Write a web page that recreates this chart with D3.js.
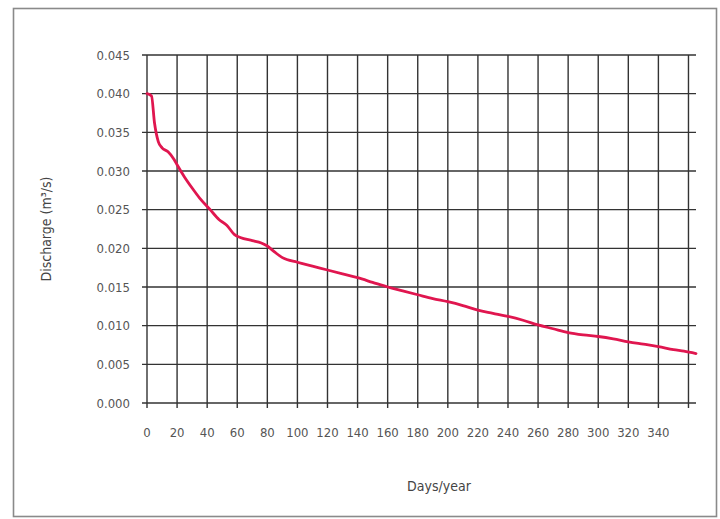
<!DOCTYPE html>
<html>
<head>
<meta charset="utf-8">
<script src="https://cdn.jsdelivr.net/npm/d3@7"></script>
<style>
  html, body { margin: 0; padding: 0; background: #fff; }
  svg { display: block; }
  text { font-family: "DejaVu Sans Condensed", "DejaVu Sans", sans-serif; font-stretch: condensed; }
</style>
</head>
<body>
<svg id="chart" width="720" height="519"></svg>
<script>
// ---- data ----
const days = [0, 3, 5, 7.5, 10, 14, 18, 20, 25, 30, 35, 42, 48, 53, 58, 62, 70, 76, 80, 85, 90,
  100, 110, 120, 130, 140, 150, 160, 170, 180, 190, 200, 210, 220, 230, 240, 250, 260, 270,
  280, 290, 300, 310, 320, 330, 340, 350, 357, 365];
const discharge = [0.0400, 0.0397, 0.0362, 0.0338, 0.0330, 0.0325, 0.0315, 0.0308, 0.0292, 0.0278,
  0.0265, 0.0250, 0.0237, 0.0230, 0.0218, 0.0214, 0.0210, 0.0207, 0.0203, 0.0195, 0.0188,
  0.0182, 0.0177, 0.0172, 0.0167, 0.0162, 0.0156, 0.0150, 0.0145, 0.0140, 0.0135, 0.0131,
  0.0126, 0.0120, 0.0116, 0.0112, 0.0107, 0.0101, 0.0096, 0.0091, 0.0088, 0.0086, 0.0083,
  0.0079, 0.0076, 0.0073, 0.0069, 0.0067, 0.0064];
const xGridValues = [0, 20, 40, 60, 80, 100, 120, 140, 160, 180, 200, 220, 240, 260, 280, 300, 320, 340, 360];
const xTickLabels = [0, 20, 40, 60, 80, 100, 120, 140, 160, 180, 200, 220, 240, 260, 280, 300, 320, 340];
const yTickValues = [0, 0.005, 0.010, 0.015, 0.020, 0.025, 0.030, 0.035, 0.040, 0.045];
const xTitle = "Days/year";
const yTitle = "Discharge (m³/s)";

const svg = d3.select("#chart");
const W = 720, H = 519;
const margin = { left: 147, right: 24, top: 55, bottom: 116 };
const x = d3.scaleLinear().domain([0, 365]).range([margin.left, W - margin.right]);
const y = d3.scaleLinear().domain([0, 0.045]).range([H - margin.bottom, margin.top]);

// outer frame
svg.append("rect")
  .attr("x", 13.5).attr("y", 8.5).attr("width", 703).attr("height", 508)
  .attr("fill", "none").attr("stroke", "#8a8a8a").attr("stroke-width", 1.6);

const gridColor = "#333";

// horizontal gridlines (extend left as ticks)
svg.append("g").selectAll("line").data(yTickValues).join("line")
  .attr("x1", x(0) - 5).attr("x2", x(365))
  .attr("y1", d => y(d)).attr("y2", d => y(d))
  .attr("stroke", gridColor).attr("stroke-width", 1.4);

// vertical gridlines (extend below as ticks)
svg.append("g").selectAll("line").data(xGridValues).join("line")
  .attr("x1", d => x(d)).attr("x2", d => x(d))
  .attr("y1", y(0.045)).attr("y2", y(0) + 5)
  .attr("stroke", gridColor).attr("stroke-width", 1.4);

// y tick labels
svg.append("g").selectAll("text").data(yTickValues).join("text")
  .attr("x", x(0) - 17).attr("y", d => y(d)).attr("dy", "0.35em")
  .attr("text-anchor", "end").attr("font-size", 13).attr("fill", "#555")
  .text(d => d3.format(".3f")(d));

// x tick labels
svg.append("g").selectAll("text").data(xTickLabels).join("text")
  .attr("x", d => x(d)).attr("y", y(0) + 29).attr("dy", "0.35em")
  .attr("text-anchor", "middle").attr("font-size", 13).attr("fill", "#555")
  .text(d => d);

// axis titles
svg.append("text")
  .attr("transform", `translate(46,${(y(0) + y(0.045)) / 2}) rotate(-90)`)
  .attr("text-anchor", "middle").attr("dy", "0.35em")
  .attr("font-size", 14).attr("fill", "#444").text(yTitle);

svg.append("text")
  .attr("x", 439).attr("y", 486).attr("dy", "0.35em")
  .attr("text-anchor", "middle").attr("font-size", 14).attr("fill", "#444").text(xTitle);

// curve
const pts = days.map((d, i) => [d, discharge[i]]);
const line = d3.line().x(d => x(d[0])).y(d => y(d[1])).curve(d3.curveMonotoneX);
svg.append("path").datum(pts)
  .attr("d", line).attr("fill", "none")
  .attr("stroke", "#e0164f").attr("stroke-width", 2.8)
  .attr("stroke-linejoin", "round").attr("stroke-linecap", "round");
</script>
</body>
</html>
